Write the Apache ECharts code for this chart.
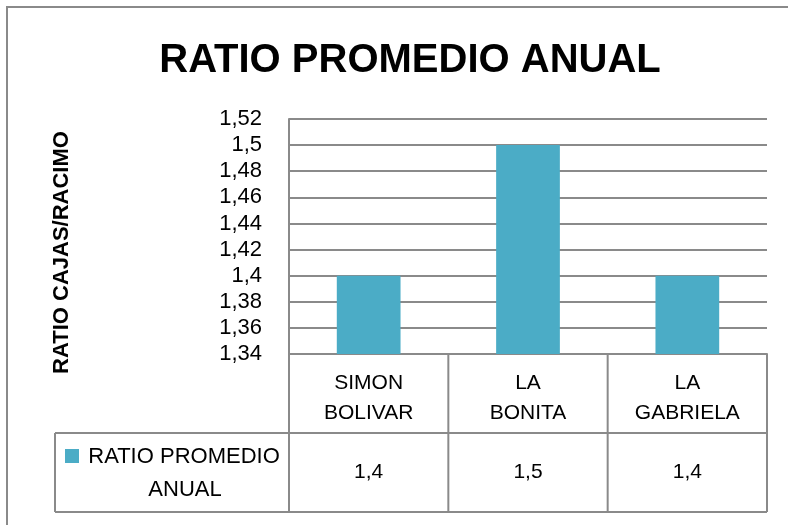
<!DOCTYPE html>
<html>
<head>
<meta charset="utf-8">
<script src="https://cdn.jsdelivr.net/npm/echarts@6/dist/echarts.min.js"></script>
<style>html,body{margin:0;padding:0;background:#fff}#c{width:788px;height:525px}</style>
</head>
<body>
<div id="c"></div>
<script>
const categories = ['SIMON BOLIVAR', 'LA BONITA', 'LA GABRIELA'];
const seriesName = 'RATIO PROMEDIO ANUAL';
const values = [1.4, 1.5, 1.4];
const yMin = 1.34, yMax = 1.52, yStep = 0.02;

const FONT = '"Liberation Sans", Arial, sans-serif';
const fmt = v => String(parseFloat(Number(v).toFixed(2))).replace('.', ',');

const chart = echarts.init(document.getElementById('c'), null, {renderer: 'canvas'});
const gridColor = '#8a8a8a';

chart.setOption({
  animation: false,
  backgroundColor: '#fff',
  title: {
    text: 'RATIO PROMEDIO ANUAL',
    left: 405, top: 36, textAlign: 'center',
    textStyle: {fontFamily: FONT, fontWeight: 'bold', fontSize: 40, color: '#000'}
  },
  grid: {left: 289, right: 21, top: 119, bottom: 171},
  xAxis: {
    type: 'category',
    data: categories,
    axisLine: {show: true, lineStyle: {color: gridColor, width: 2}},
    axisTick: {show: false},
    axisLabel: {
      margin: 14, fontFamily: FONT, fontSize: 21, color: '#000', lineHeight: 30,
      formatter: s => s.replace(' ', '\n')
    }
  },
  yAxis: {
    type: 'value', min: yMin, max: yMax, interval: yStep,
    name: 'RATIO CAJAS/RACIMO', nameLocation: 'middle', nameGap: 216,
    nameTextStyle: {fontFamily: FONT, fontWeight: 'bold', fontSize: 22, color: '#000', padding: [0, 32, 0, 0]},
    axisLine: {show: true, lineStyle: {color: gridColor, width: 2}},
    axisTick: {show: false},
    splitLine: {lineStyle: {color: gridColor, width: 2}},
    axisLabel: {margin: 27, fontFamily: FONT, fontSize: 22, color: '#000', formatter: fmt}
  },
  series: [{
    name: seriesName, type: 'bar', data: values, barWidth: '40%',
    itemStyle: {color: '#4bacc6'}
  }]
});

function drawTable() {
  const p0 = chart.convertToPixel({xAxisIndex: 0}, 0);
  const p1 = chart.convertToPixel({xAxisIndex: 0}, 1);
  const band = p1 - p0;
  const left = p0 - band / 2;
  const right = left + band * categories.length;
  const top = chart.convertToPixel({yAxisIndex: 0}, yMin);
  const row1 = top + 79, row2 = row1 + 79;
  const legLeft = 55;
  const ls = {stroke: gridColor, lineWidth: 2};
  const els = [];
  const line = (x1, y1, x2, y2) => els.push({type: 'line', shape: {x1, y1, x2, y2}, style: ls, silent: true});
  line(left, top, right, top);
  line(legLeft, row1, right, row1);
  line(legLeft, row2, right, row2);
  line(legLeft, row1, legLeft, row2);
  for (let i = 0; i <= categories.length; i++) {
    const x = left + band * i;
    line(x, top, x, row2);
  }
  values.forEach((v, i) => {
    els.push({type: 'text', x: left + band * (i + 0.5), y: (row1 + row2) / 2 - 0.5,
      style: {text: fmt(v), font: '21px ' + FONT, fill: '#000', align: 'center', verticalAlign: 'middle'}, silent: true});
  });
  els.push({type: 'rect', shape: {x: 65, y: 449, width: 14, height: 14}, style: {fill: '#4bacc6'}, silent: true});
  els.push({type: 'text', x: 184, y: 457,
    style: {text: 'RATIO PROMEDIO', font: '22px ' + FONT, fill: '#000', align: 'center', verticalAlign: 'middle'}, silent: true});
  els.push({type: 'text', x: 185, y: 490,
    style: {text: 'ANUAL', font: '22px ' + FONT, fill: '#000', align: 'center', verticalAlign: 'middle'}, silent: true});
  els.push({type: 'rect', shape: {x: 7, y: 7, width: 800, height: 540}, style: {fill: 'none', stroke: '#8a8a8a', lineWidth: 2}, silent: true, z: 100});
  chart.setOption({graphic: els});
}
drawTable();
</script>
</body>
</html>
